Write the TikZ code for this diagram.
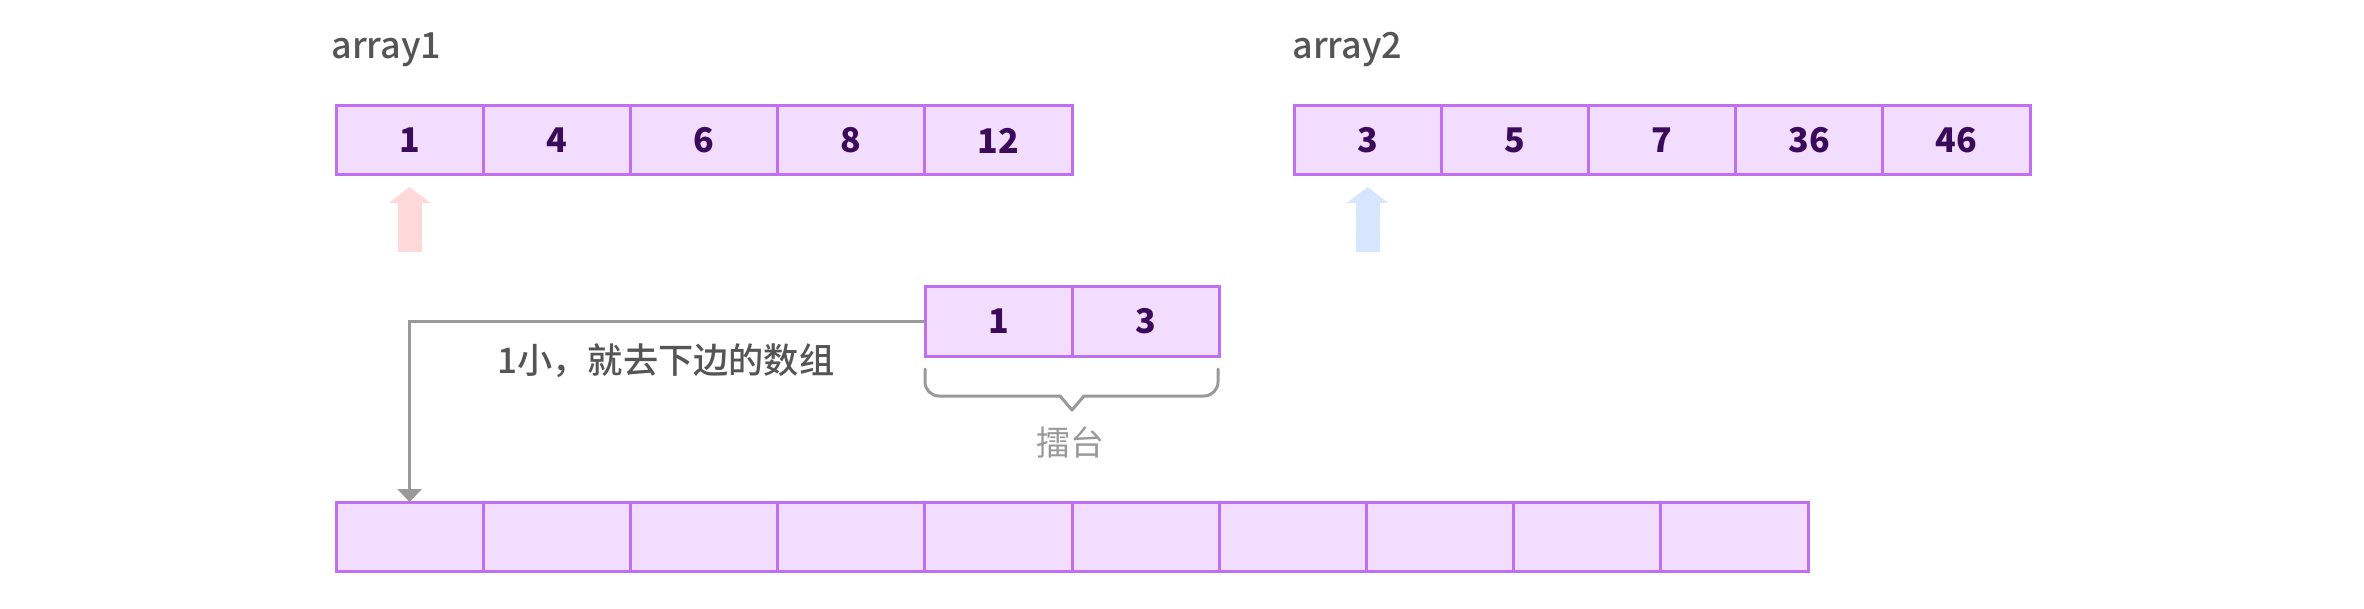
\documentclass[tikz,border=0pt]{standalone}
\usepackage{fontspec}
\setmainfont{Noto Sans CJK SC}
\newfontfamily\mediumfont{Noto Sans CJK SC Medium}
\usetikzlibrary{arrows.meta}
\definecolor{cellfill}{HTML}{F2DDFE}
\definecolor{cellborder}{HTML}{C06FF0}
\definecolor{cellnum}{HTML}{3B0A5A}
\definecolor{labelgray}{HTML}{555555}
\definecolor{linegray}{HTML}{999999}
\definecolor{pointerred}{HTML}{FFD9D9}
\definecolor{pointerblue}{HTML}{D8E5FF}
\tikzstyle{arraycell}=[draw=cellborder,fill=cellfill,line width=1.5pt,minimum width=73.6pt,minimum height=34.5pt,inner sep=0pt,outer sep=0pt,text=cellnum,font=\fontsize{17pt}{17pt}\selectfont\bfseries]
\tikzstyle{arraylabel}=[anchor=base west,inner sep=0pt,text=labelgray,font=\fontsize{18pt}{18pt}\selectfont\mediumfont]
\tikzstyle{textlabel}=[inner sep=0pt,font=\fontsize{17pt}{17pt}\selectfont]
\tikzstyle{orientedarc}=[->,>={Triangle[width=12pt,length=6.5pt]},draw=linegray,line width=1.5pt]
\tikzstyle{pointer}=[-{Triangle[width=20.5pt,length=8pt]},line width=12pt,shorten >=6pt]
\tikzstyle{bracepart}=[draw=linegray,line width=1.5pt,line cap=round,line join=round]

\begin{document}
\begin{tikzpicture}[x=0.5pt,y=-0.5pt]
\useasboundingbox (0,0) rectangle (2364,609);

\node[arraylabel] (L1) at (331,59) {array1};
\node[arraylabel] (L2) at (1292,59) {array2};

% first array
\node[arraycell] (A1) at (409.6,140.5) {1};
\node[arraycell] (A2) at (556.8,140.5) {4};
\node[arraycell] (A3) at (704,140.5) {6};
\node[arraycell] (A4) at (851.2,140.5) {8};
\node[arraycell] (A5) at (998.4,140.5) {12};

% second array
\node[arraycell] (C1) at (1367.6,140.5) {3};
\node[arraycell] (C2) at (1514.8,140.5) {5};
\node[arraycell] (C3) at (1662,140.5) {7};
\node[arraycell] (C4) at (1809.2,140.5) {36};
\node[arraycell] (C5) at (1956.4,140.5) {46};

\coordinate (P1) at (409.6,252);
\coordinate (P2) at (1367.6,252);
\draw[pointer,pointerred] (P1) -- (A1.south);
\draw[pointer,pointerblue] (P2) -- (C1.south);

% ring
\node[arraycell,minimum height=35pt] (M1) at (998.6,321) {1};
\node[arraycell,minimum height=35pt] (M2) at (1145.8,321) {3};

\draw[bracepart,rounded corners=7pt] (925,369) -- (925,396) -- (1060,396);
\draw[bracepart] (1060,396) -- (1072,410) -- (1084,396);
\draw[bracepart,rounded corners=7pt] (1084,396) -- (1218,396) -- (1218,369);
\node[textlabel,text=linegray] (T1) at (1070,443) {擂台};

% merged array
\node[arraycell] (B1) at (409.6,536.5) {};
\node[arraycell] (B2) at (556.8,536.5) {};
\node[arraycell] (B3) at (704,536.5) {};
\node[arraycell] (B4) at (851.2,536.5) {};
\node[arraycell] (B5) at (998.4,536.5) {};
\node[arraycell] (B6) at (1145.6,536.5) {};
\node[arraycell] (B7) at (1292.8,536.5) {};
\node[arraycell] (B8) at (1440,536.5) {};
\node[arraycell] (B9) at (1587.2,536.5) {};
\node[arraycell] (B10) at (1734.4,536.5) {};

\draw[orientedarc] (M1.west) -| (B1.north);
\node[textlabel,text=labelgray,anchor=west,font=\fontsize{17.6pt}{17.6pt}\selectfont\mediumfont] (T2) at (497,361) {1小，就去下边的数组};

\end{tikzpicture}
\end{document}
